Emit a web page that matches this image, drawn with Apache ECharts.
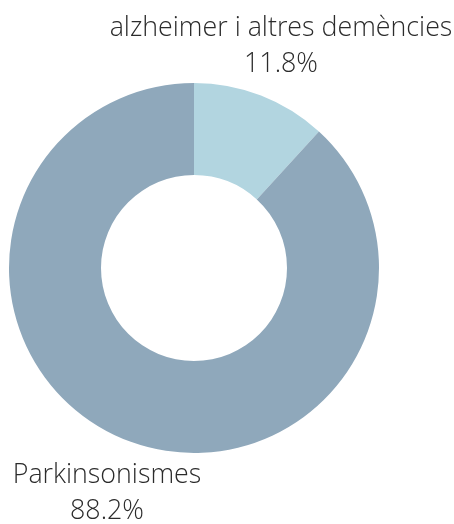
<!DOCTYPE html>
<html>
<head>
<meta charset="utf-8">
<script src="https://cdn.jsdelivr.net/npm/echarts@6/dist/echarts.min.js"></script>
<style>
html,body{margin:0;padding:0;background:#fff;}
#chart{width:454px;height:524px;}
</style>
</head>
<body>
<div id="chart"></div>
<script>
var categories = ['alzheimer i altres demències', 'Parkinsonismes'];
var values = [11.8, 88.2];
var colors = ['#b2d5e0', '#8fa8bb'];

var chart = echarts.init(document.getElementById('chart'), null, {renderer: 'canvas'});
var labelPos = [
  {x: 281, y: 46},
  {x: 107, y: 493}
];
chart.setOption({
  animation: false,
  series: [{
    type: 'pie',
    center: [194, 268],
    radius: [93, 185],
    startAngle: 90,
    clockwise: true,
    data: categories.map(function (c, i) {
      return {name: c, value: values[i], itemStyle: {color: colors[i]}};
    }),
    label: {
      show: true,
      position: 'outside',
      alignTo: 'none',
      overflow: 'none',
      width: 500,
      formatter: function (p) { return p.name + '\n' + p.value.toFixed(1) + '%'; },
      fontFamily: 'Open Sans',
      fontWeight: 300,
      fontSize: 26.8,
      lineHeight: 36,
      color: '#2b2b2b',
      align: 'center'
    },
    labelLine: {show: false},
    labelLayout: function (params) {
      var p = labelPos[params.dataIndex];
      return {x: p.x, y: p.y, align: 'center', verticalAlign: 'middle'};
    },
    emphasis: {disabled: true}
  }]
});
</script>
</body>
</html>
